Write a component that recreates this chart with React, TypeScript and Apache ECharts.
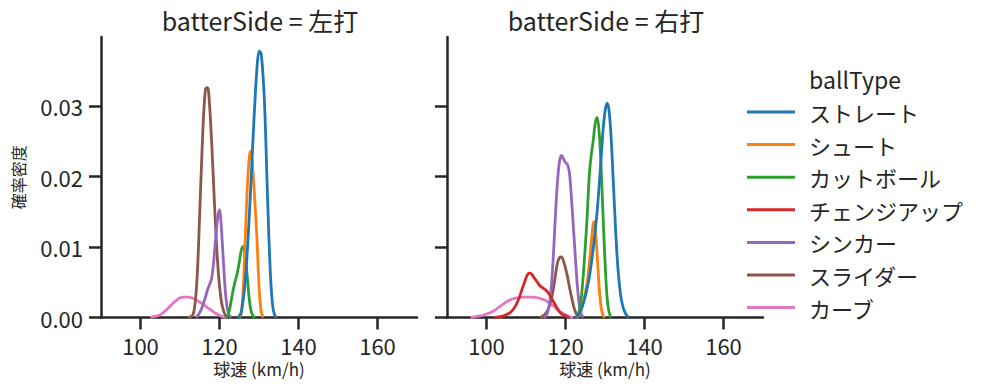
import React, { useEffect, useRef } from "react";
import * as echarts from "echarts";

type P = [number, number];

const xTicks = [100, 120, 140, 160];
const yTicks = [0, 0.01, 0.02, 0.03];
const panelTitles = ["batterSide = 左打", "batterSide = 右打"];
const ballTypes = ["ストレート", "シュート", "カットボール", "チェンジアップ", "シンカー", "スライダー", "カーブ"];
const colors = ["#1f77b4", "#ff7f0e", "#2ca02c", "#d62728", "#9467bd", "#8c564b", "#e377c2"];

// 左打
const leftStraight: P[] = [[124.5,0],[125,0.0002],[125.5,0.0008],[126,0.0025],[126.5,0.005],[127,0.009],[127.5,0.014],[128,0.0195],[128.5,0.0255],[129,0.031],[129.5,0.0355],[130,0.0378],[130.5,0.0375],[131,0.0345],[131.5,0.029],[132,0.02],[132.5,0.0115],[133,0.005],[133.5,0.0015],[134,0.0003],[134.5,0]];
const leftShoot: P[] = [[125,0],[125.5,0.0005],[126,0.004],[126.5,0.011],[127,0.018],[127.5,0.0225],[127.8,0.0236],[128.2,0.0225],[128.5,0.0205],[129,0.016],[129.5,0.011],[130,0.0045],[130.5,0.001],[131,0]];
const leftCutter: P[] = [[121.5,0],[122,0.0002],[122.5,0.001],[123,0.0025],[123.5,0.004],[124,0.0052],[124.5,0.0063],[125,0.0078],[125.5,0.0095],[126,0.0101],[126.5,0.0088],[127,0.006],[127.5,0.0028],[128,0.0009],[128.5,0.0002],[129,0]];
const leftChangeup: P[] = [];
const leftSinker: P[] = [[114,0],[114.5,0.0003],[115,0.0007],[115.5,0.0013],[116,0.0021],[116.5,0.003],[117,0.004],[117.5,0.0047],[118,0.0055],[118.5,0.0078],[119,0.011],[119.5,0.014],[120,0.0153],[120.5,0.0125],[121,0.0078],[121.5,0.0036],[122,0.0012],[122.5,0.0003],[123,0]];
const leftSlider: P[] = [[112,0],[113,0.0002],[113.5,0.0008],[114,0.003],[114.5,0.0075],[115,0.015],[115.5,0.0225],[116,0.029],[116.5,0.0325],[117,0.0326],[117.5,0.03],[118,0.025],[118.5,0.019],[119,0.013],[119.5,0.008],[120,0.0045],[120.5,0.0022],[121,0.001],[121.5,0.0003],[122,0]];
const leftCurve: P[] = [[102.5,0],[103,0.0001],[104,0.0002],[105,0.0004],[106,0.0008],[107,0.0013],[108,0.0019],[109,0.0024],[110,0.0028],[111,0.0029],[112,0.0029],[113,0.0028],[114,0.0025],[115,0.0022],[116,0.0018],[117,0.0014],[118,0.001],[119,0.0006],[120,0.0003],[121,0.0001],[122,0]];

// 右打
const rightStraight: P[] = [[122.5,0],[123,0.0002],[123.5,0.0006],[124,0.0012],[124.5,0.002],[125,0.003],[125.5,0.0042],[126,0.0056],[126.5,0.0075],[127,0.0097],[127.5,0.0122],[128,0.015],[128.5,0.0185],[129,0.0225],[129.5,0.0265],[130,0.0292],[130.5,0.0304],[131,0.0295],[131.5,0.026],[132,0.0205],[132.5,0.0145],[133,0.0092],[133.5,0.0055],[134,0.003],[134.5,0.0016],[135,0.0008],[135.5,0.0003],[136,0]];
const rightShoot: P[] = [[122.5,0],[123,0.0001],[123.5,0.0004],[124,0.001],[124.5,0.0022],[125,0.0035],[125.5,0.005],[126,0.0075],[126.5,0.0105],[127,0.0133],[127.3,0.0136],[127.5,0.013],[128,0.009],[128.5,0.0045],[129,0.0015],[129.5,0.0003],[130,0]];
const rightCutter: P[] = [[122.5,0],[123,0.0002],[123.5,0.001],[124,0.0028],[124.5,0.006],[125,0.01],[125.5,0.0145],[126,0.02],[126.5,0.023],[127,0.025],[127.5,0.0275],[128,0.0284],[128.5,0.0265],[129,0.0215],[129.5,0.0145],[130,0.008],[130.5,0.003],[131,0.0008],[131.5,0]];
const rightChangeup: P[] = [[102,0],[103,0.0001],[104,0.0002],[105,0.0004],[106,0.0007],[107,0.0013],[108,0.0024],[109,0.004],[110,0.0056],[110.5,0.0062],[111,0.0063],[111.5,0.0061],[112,0.0057],[112.5,0.0053],[113,0.0049],[113.5,0.0045],[114,0.0043],[114.5,0.0041],[115,0.0039],[115.5,0.0036],[116,0.0032],[116.5,0.0027],[117,0.0022],[117.5,0.0017],[118,0.0012],[118.5,0.0008],[119,0.0005],[120,0.0002],[121,0]];
const rightSinker: P[] = [[114.5,0],[115,0.0002],[115.5,0.0008],[116,0.0022],[116.5,0.005],[117,0.0095],[117.5,0.015],[118,0.0195],[118.5,0.0222],[119,0.023],[119.5,0.0225],[120,0.022],[120.5,0.0217],[121,0.0205],[121.5,0.017],[122,0.0128],[122.5,0.0085],[123,0.0045],[123.5,0.0018],[124,0.0005],[124.5,0]];
const rightSlider: P[] = [[113.5,0],[114,0.0001],[114.5,0.0003],[115,0.0006],[115.5,0.001],[116,0.0018],[116.5,0.0028],[117,0.0043],[117.5,0.0062],[118,0.0078],[118.5,0.0085],[119,0.0086],[119.5,0.008],[120,0.007],[120.5,0.0058],[121,0.0043],[121.5,0.003],[122,0.0017],[122.5,0.0008],[123,0.0003],[123.5,0]];
const rightCurve: P[] = [[96,0],[97,0.0001],[98,0.0002],[99,0.0003],[100,0.0005],[101,0.0007],[102,0.001],[103,0.0014],[104,0.0018],[105,0.0022],[106,0.0025],[107,0.0027],[108,0.0028],[109,0.0029],[110,0.0029],[111,0.0029],[112,0.0029],[113,0.0028],[114,0.0026],[115,0.0024],[116,0.002],[117,0.0016],[118,0.0011],[119,0.0007],[120,0.0004],[121,0.0001],[122,0]];

const leftData = [leftStraight, leftShoot, leftCutter, leftChangeup, leftSinker, leftSlider, leftCurve];
const rightData = [rightStraight, rightShoot, rightCutter, rightChangeup, rightSinker, rightSlider, rightCurve];

const FONT = "'Noto Sans CJK JP', 'Noto Sans', sans-serif";
const INK = "#262626";

export default function App() {
  const ref = useRef<HTMLDivElement>(null);
  useEffect(() => {
    if (!ref.current) return;
    const chart = echarts.init(ref.current, undefined, { renderer: "svg" });
    const gridTop = 37;
    const gridH = 280.5;
    const grids = [
      { left: 101, top: gridTop, width: 316, height: gridH },
      { left: 447, top: gridTop, width: 316, height: gridH },
    ];
    const xAxes = [0, 1].map((i) => ({
      type: "value",
      gridIndex: i,
      min: 90,
      max: 170,
      name: "球速 (km/h)",
      nameLocation: "middle",
      nameGap: 42,
      nameTextStyle: { fontSize: 17, color: INK, fontFamily: FONT },
      axisLine: { show: true, onZero: false, lineStyle: { color: INK, width: 2.5 } },
      axisTick: { show: true, length: 12, lineStyle: { color: INK, width: 2.5 }, customValues: xTicks },
      axisLabel: { show: true, fontSize: 22, color: INK, fontFamily: FONT, margin: 16, customValues: xTicks },
      splitLine: { show: false },
    }));
    const yAxes = [0, 1].map((i) => ({
      type: "value",
      gridIndex: i,
      min: 0,
      max: 0.0398,
      name: i === 0 ? "確率密度" : "",
      nameLocation: "middle",
      nameRotate: 90,
      nameGap: 75,
      nameTextStyle: { fontSize: 16, color: INK, fontFamily: FONT },
      axisLine: { show: true, onZero: false, lineStyle: { color: INK, width: 2.5 } },
      axisTick: { show: true, length: 12, lineStyle: { color: INK, width: 2.5 }, customValues: yTicks },
      axisLabel: {
        show: i === 0,
        fontSize: 22,
        color: INK,
        fontFamily: FONT,
        margin: 18,
        customValues: yTicks,
        formatter: (v: number) => v.toFixed(2),
      },
      splitLine: { show: false },
    }));
    const series: any[] = [];
    [leftData, rightData].forEach((panel, pi) => {
      for (let k = ballTypes.length - 1; k >= 0; k--) {
        if (panel[k].length === 0) continue;
        series.push({
          type: "line",
          name: ballTypes[k],
          xAxisIndex: pi,
          yAxisIndex: pi,
          data: panel[k],
          showSymbol: false,
          smooth: 0.3,
          color: colors[k],
          lineStyle: { color: colors[k], width: 2.8 },
          z: 10 + (ballTypes.length - k),
        });
      }
    });
    chart.setOption({
      animation: false,
      backgroundColor: "#ffffff",
      textStyle: { fontFamily: FONT },
      grid: grids,
      xAxis: xAxes,
      yAxis: yAxes,
      legend: {
        orient: "vertical",
        left: 742,
        top: 96,
        itemWidth: 48,
        itemHeight: 3,
        itemGap: 10.6,
        icon: "rect",
        data: ballTypes,
        selectedMode: false,
        textStyle: { fontSize: 22, lineHeight: 22, color: INK, fontFamily: FONT, padding: [0, 0, 0, 9] },
      },
      graphic: [
        {
          type: "text",
          x: 260,
          y: 20,
          style: { text: panelTitles[0], fontSize: 25, fill: INK, fontFamily: FONT, align: "center", verticalAlign: "middle", textAlign: "center", textVerticalAlign: "middle" },
        },
        {
          type: "text",
          x: 606,
          y: 20,
          style: { text: panelTitles[1], fontSize: 25, fill: INK, fontFamily: FONT, align: "center", verticalAlign: "middle", textAlign: "center", textVerticalAlign: "middle" },
        },
        {
          type: "text",
          x: 855,
          y: 79,
          style: { text: "ballType", fontSize: 23, fill: INK, fontFamily: FONT, align: "center", verticalAlign: "middle", textAlign: "center", textVerticalAlign: "middle" },
        },
      ],
      series,
    });
    return () => chart.dispose();
  }, []);
  return <div ref={ref} style={{ width: 987, height: 391, position: "absolute", left: 0, top: 0 }} />;
}
